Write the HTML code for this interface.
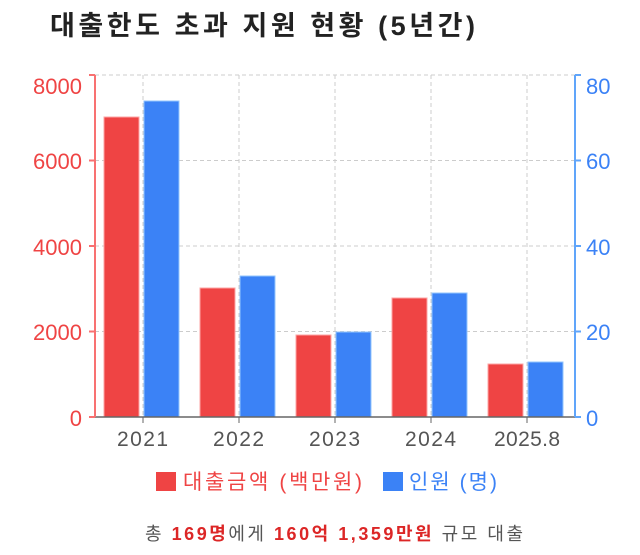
<!DOCTYPE html>
<html><head><meta charset="utf-8"><style>
body{margin:0;background:#fff;width:640px;height:550px;overflow:hidden;font-family:"Liberation Sans","Noto Sans CJK KR",sans-serif}
</style></head><body>
<svg width="640" height="550" xmlns="http://www.w3.org/2000/svg" font-family="Liberation Sans, Noto Sans CJK KR, sans-serif">
<text x="50" y="35" font-size="27" font-weight="bold" fill="#222" textLength="425" lengthAdjust="spacing">대출한도 초과 지원 현황 (5년간)</text>
<g stroke="#ccc" stroke-dasharray="4,3" stroke-width="1">
<line x1="95" y1="75" x2="575" y2="75"/><line x1="95" y1="160.5" x2="575" y2="160.5"/><line x1="95" y1="246" x2="575" y2="246"/><line x1="95" y1="331.5" x2="575" y2="331.5"/>
<line x1="143" y1="75" x2="143" y2="417"/><line x1="239" y1="75" x2="239" y2="417"/><line x1="335" y1="75" x2="335" y2="417"/><line x1="431" y1="75" x2="431" y2="417"/><line x1="527" y1="75" x2="527" y2="417"/>
</g>
<g fill="#ef4444" stroke="#fca5a5" stroke-width="1">
<rect x="104" y="117" width="35" height="300"/><rect x="200" y="288" width="35" height="129"/><rect x="296" y="335" width="35" height="82"/><rect x="392" y="298" width="35" height="119"/><rect x="488" y="364" width="35" height="53"/>
</g>
<g fill="#3b82f6" stroke="#93c5fd" stroke-width="1">
<rect x="144" y="101" width="35" height="316"/><rect x="240" y="276" width="35" height="141"/><rect x="336" y="332" width="35" height="85"/><rect x="432" y="293" width="35" height="124"/><rect x="528" y="362" width="35" height="55"/>
</g>
<line x1="95" y1="417" x2="575" y2="417" stroke="#666" stroke-width="1.5"/>
<g stroke="#666"><line x1="143" y1="417" x2="143" y2="423"/><line x1="239" y1="417" x2="239" y2="423"/><line x1="335" y1="417" x2="335" y2="423"/><line x1="431" y1="417" x2="431" y2="423"/><line x1="527" y1="417" x2="527" y2="423"/></g>
<g font-size="21" fill="#555"><text x="117" y="446" textLength="51">2021</text><text x="213" y="446" textLength="51">2022</text><text x="309" y="446" textLength="51">2023</text><text x="405" y="446" textLength="51">2024</text><text x="494" y="446" textLength="66">2025.8</text></g>
<g stroke="#f87171" stroke-width="2"><line x1="95" y1="75" x2="95" y2="417"/><line x1="89" y1="75" x2="95" y2="75"/><line x1="89" y1="160.5" x2="95" y2="160.5"/><line x1="89" y1="246" x2="95" y2="246"/><line x1="89" y1="331.5" x2="95" y2="331.5"/><line x1="89" y1="417" x2="95" y2="417"/></g>
<g font-size="22" fill="#ef4444" text-anchor="end"><text x="82" y="94">8000</text><text x="82" y="169">6000</text><text x="82" y="255">4000</text><text x="82" y="340">2000</text><text x="82" y="426">0</text></g>
<g stroke="#60a5fa" stroke-width="2"><line x1="575" y1="75" x2="575" y2="417"/><line x1="575" y1="75" x2="581" y2="75"/><line x1="575" y1="160.5" x2="581" y2="160.5"/><line x1="575" y1="246" x2="581" y2="246"/><line x1="575" y1="331.5" x2="581" y2="331.5"/><line x1="575" y1="417" x2="581" y2="417"/></g>
<g font-size="22" fill="#3b82f6"><text x="586" y="94">80</text><text x="586" y="169">60</text><text x="586" y="255">40</text><text x="586" y="340">20</text><text x="586" y="426">0</text></g>
<rect x="156" y="472" width="20" height="19" fill="#ef4444"/>
<text x="183" y="489" font-size="21" fill="#ef4444" textLength="179" lengthAdjust="spacing">대출금액 (백만원)</text>
<rect x="383" y="472" width="20" height="19" fill="#3b82f6"/>
<text x="409" y="489" font-size="21" fill="#3b82f6" textLength="88" lengthAdjust="spacing">인원 (명)</text>
<text x="145" y="540" font-size="18" fill="#555" textLength="378" lengthAdjust="spacing">총 <tspan fill="#dc2626" font-weight="bold">169명</tspan>에게 <tspan fill="#dc2626" font-weight="bold">160억 1,359만원</tspan> 규모 대출</text>
</svg>
</body></html>
